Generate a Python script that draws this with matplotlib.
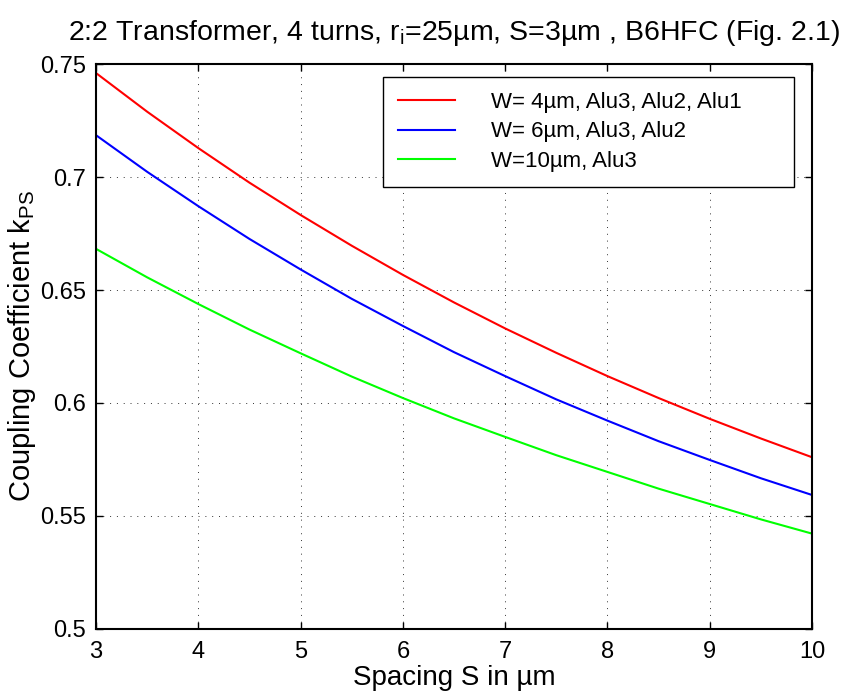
import matplotlib
matplotlib.use("Agg")
import matplotlib.pyplot as plt

# ── Data (every 0.5 µm) ──────────────────────────────────────────────────────
spacing = [3, 3.5, 4, 4.5, 5, 5.5, 6, 6.5, 7, 7.5, 8, 8.5, 9, 9.5, 10]
k_w4 = [0.7460, 0.7289, 0.7128, 0.6975, 0.6832, 0.6696, 0.6567, 0.6445,
        0.6330, 0.6222, 0.6119, 0.6022, 0.5930, 0.5843, 0.5760]
k_w6 = [0.7185, 0.7023, 0.6871, 0.6726, 0.6591, 0.6461, 0.6341, 0.6225,
        0.6119, 0.6016, 0.5922, 0.5831, 0.5748, 0.5667, 0.5593]
k_w10 = [0.6682, 0.6556, 0.6438, 0.6325, 0.6220, 0.6117, 0.6022, 0.5932,
         0.5850, 0.5769, 0.5695, 0.5621, 0.5553, 0.5485, 0.5422]

labels = ["W= 4\u00b5m, Alu3, Alu2, Alu1",
          "W= 6\u00b5m, Alu3, Alu2",
          "W=10\u00b5m, Alu3"]
colors = ["#ff0000", "#0000ff", "#00ff00"]

x_ticks = [3, 4, 5, 6, 7, 8, 9, 10]
y_ticks = [0.5, 0.55, 0.6, 0.65, 0.7, 0.75]
y_ticklabels = ["0.5", "0.55", "0.6", "0.65", "0.7", "0.75"]

plt.rcParams["font.family"] = ["Liberation Sans", "DejaVu Sans"]
plt.rcParams["mathtext.fontset"] = "custom"
plt.rcParams["mathtext.rm"] = "Liberation Sans"
plt.rcParams["mathtext.it"] = "Liberation Sans:italic"

fig = plt.figure(figsize=(8.41, 6.96), dpi=100)
ax = fig.add_axes([0.1142, 0.0963, 0.8513, 0.8117])

for ys, c, lab in zip([k_w4, k_w6, k_w10], colors, labels):
    ax.plot(spacing, ys, color=c, linewidth=1.5, label=lab)

ax.set_xlim(3, 10)
ax.set_ylim(0.5, 0.75)
ax.set_xticks(x_ticks)
ax.set_xticklabels([str(t) for t in x_ticks])
ax.set_yticks(y_ticks)
ax.set_yticklabels(y_ticklabels)

ax.grid(True, color="#333333", linestyle=(0, (1, 6)), linewidth=0.7)
ax.tick_params(direction="in", length=5, width=1.0, top=True, right=True,
               labelsize=17)
ax.tick_params(axis="x", pad=9)
ax.tick_params(axis="y", pad=7)
for s in ax.spines.values():
    s.set_linewidth(1.5)

ax.set_xlabel("Spacing S in \u00b5m", fontsize=20, labelpad=1)
ax.set_ylabel("Coupling Coefficient k$_{\\mathrm{PS}}$", fontsize=21, labelpad=2)
ax.set_title("2:2 Transformer, 4 turns, r$_{\\mathrm{i}}$=25\u00b5m, S=3\u00b5m , B6HFC (Fig. 2.1)",
             fontsize=20.5, pad=17)

leg = ax.legend(loc="upper left", bbox_to_anchor=(0.4008, 0.0, 0.574, 0.977),
                mode="expand", fontsize=16,
                handlelength=2.57, handletextpad=1.6, borderpad=0.68,
                labelspacing=0.37, fancybox=False, framealpha=1,
                edgecolor="black", borderaxespad=0)
leg.get_frame().set_linewidth(1.0)

fig.savefig("out.png", dpi=100, facecolor="white")
